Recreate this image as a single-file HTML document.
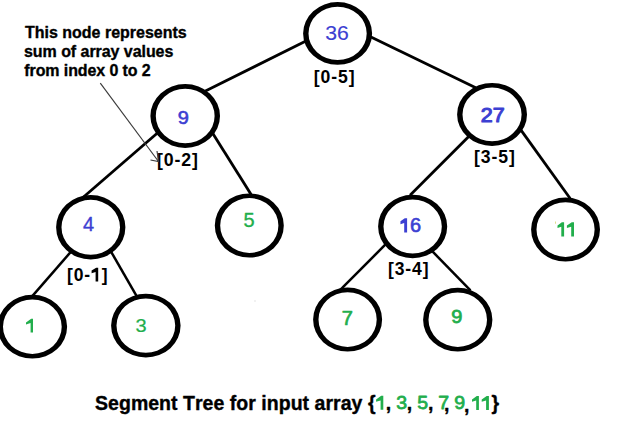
<!DOCTYPE html><html><head><meta charset="utf-8"><title>Segment Tree</title><style>html,body{margin:0;padding:0;background:#fff;width:640px;height:445px;overflow:hidden}svg{display:block}text{font-family:"Liberation Sans",sans-serif;font-kerning:none;white-space:pre}</style></head><body>
<svg width="640" height="445" viewBox="0 0 640 445">
<rect width="640" height="445" fill="#fff"/>
<line x1="203.96" y1="91.67" x2="306.94" y2="40.58" stroke="#000" stroke-width="2.8"/>
<line x1="369.90" y1="36.55" x2="475.75" y2="87.65" stroke="#000" stroke-width="2.8"/>
<line x1="157.43" y1="133.02" x2="82.37" y2="197.98" stroke="#000" stroke-width="2.8"/>
<line x1="212.20" y1="132.48" x2="251.60" y2="195.17" stroke="#000" stroke-width="2.8"/>
<line x1="470.26" y1="135.04" x2="410.04" y2="195.26" stroke="#000" stroke-width="2.8"/>
<line x1="520.82" y1="129.88" x2="570.18" y2="198.52" stroke="#000" stroke-width="2.8"/>
<line x1="70.38" y1="252.37" x2="32.52" y2="295.93" stroke="#000" stroke-width="2.5"/>
<line x1="110.85" y1="251.30" x2="136.65" y2="296.10" stroke="#000" stroke-width="2.5"/>
<line x1="385.76" y1="244.24" x2="338.74" y2="291.26" stroke="#000" stroke-width="2.5"/>
<line x1="432.45" y1="251.43" x2="470.45" y2="290.37" stroke="#000" stroke-width="2.5"/>
<path fill="#000" fill-rule="evenodd" d="M303.10 33.40A34.50 31.40 0 1 0 372.10 33.40A34.50 31.40 0 1 0 303.10 33.40ZM308.50 33.40A29.10 26.70 0 1 0 366.70 33.40A29.10 26.70 0 1 0 308.50 33.40Z"/>
<path fill="#000" fill-rule="evenodd" d="M150.40 116.00A34.80 31.90 0 1 0 220.00 116.00A34.80 31.90 0 1 0 150.40 116.00ZM155.80 116.00A29.40 27.20 0 1 0 214.60 116.00A29.40 27.20 0 1 0 155.80 116.00Z"/>
<path fill="#000" fill-rule="evenodd" d="M457.10 114.40A34.95 31.50 0 1 0 527.00 114.40A34.95 31.50 0 1 0 457.10 114.40ZM462.50 114.40A29.55 26.80 0 1 0 521.60 114.40A29.55 26.80 0 1 0 462.50 114.40Z"/>
<path fill="#000" fill-rule="evenodd" d="M56.10 227.30A34.65 32.20 0 1 0 125.40 227.30A34.65 32.20 0 1 0 56.10 227.30ZM61.50 227.30A29.25 27.50 0 1 0 120.00 227.30A29.25 27.50 0 1 0 61.50 227.30Z"/>
<path fill="#000" fill-rule="evenodd" d="M214.80 225.50A34.50 32.10 0 1 0 283.80 225.50A34.50 32.10 0 1 0 214.80 225.50ZM220.20 225.50A29.10 27.40 0 1 0 278.40 225.50A29.10 27.40 0 1 0 220.20 225.50Z"/>
<path fill="#000" fill-rule="evenodd" d="M378.10 226.50A34.55 31.70 0 1 0 447.20 226.50A34.55 31.70 0 1 0 378.10 226.50ZM383.50 226.50A29.15 27.00 0 1 0 441.80 226.50A29.15 27.00 0 1 0 383.50 226.50Z"/>
<path fill="#000" fill-rule="evenodd" d="M531.10 229.55A34.45 32.05 0 1 0 600.00 229.55A34.45 32.05 0 1 0 531.10 229.55ZM536.50 229.55A29.05 27.35 0 1 0 594.60 229.55A29.05 27.35 0 1 0 536.50 229.55Z"/>
<path fill="#000" fill-rule="evenodd" d="M-2.40 326.70A34.75 31.90 0 1 0 67.10 326.70A34.75 31.90 0 1 0 -2.40 326.70ZM3.00 326.70A29.35 27.20 0 1 0 61.70 326.70A29.35 27.20 0 1 0 3.00 326.70Z"/>
<path fill="#000" fill-rule="evenodd" d="M111.10 325.60A34.75 31.90 0 1 0 180.60 325.60A34.75 31.90 0 1 0 111.10 325.60ZM116.50 325.60A29.35 27.20 0 1 0 175.20 325.60A29.35 27.20 0 1 0 116.50 325.60Z"/>
<path fill="#000" fill-rule="evenodd" d="M313.10 319.55A34.50 32.05 0 1 0 382.10 319.55A34.50 32.05 0 1 0 313.10 319.55ZM318.50 319.55A29.10 27.35 0 1 0 376.70 319.55A29.10 27.35 0 1 0 318.50 319.55Z"/>
<path fill="#000" fill-rule="evenodd" d="M423.10 319.70A34.65 31.90 0 1 0 492.40 319.70A34.65 31.90 0 1 0 423.10 319.70ZM428.50 319.70A29.25 27.20 0 1 0 487.00 319.70A29.25 27.20 0 1 0 428.50 319.70Z"/>
<text x="325.27" y="39.72" font-size="21.208" font-weight="normal" fill="#3c40d2" stroke="#3c40d2" stroke-width="0.15" stroke-linejoin="round" transform="matrix(1 0 0 0.9890 0 0.438)">36</text>
<text x="177.64" y="124.49" font-size="20.000" font-weight="normal" fill="#3c40d2" stroke="#3c40d2" stroke-width="0.65" stroke-linejoin="round" transform="matrix(1 0 0 0.9498 0 6.243)">9</text>
<text x="480.79" y="121.62" font-size="21.498" font-weight="normal" fill="#3c40d2" stroke="#3c40d2" stroke-width="1.15" stroke-linejoin="round" transform="matrix(1 0 0 0.9560 0 5.355)">27</text>
<text x="83.10" y="231.42" font-size="20.000" font-weight="normal" fill="#3c40d2" stroke="#3c40d2" stroke-width="0.35" stroke-linejoin="round" transform="matrix(1 0 0 1.0356 0 -8.245)">4</text>
<text x="243.61" y="227.23" font-size="20.000" font-weight="normal" fill="#22ae4c" stroke="#22ae4c" stroke-width="0.35" stroke-linejoin="round" transform="matrix(1 0 0 1.0140 0 -3.174)">5</text>
<text x="410.05" y="232.28" font-size="20.000" font-weight="normal" fill="#3c40d2" stroke="#3c40d2" stroke-width="0.65" stroke-linejoin="round" transform="matrix(1 0 0 0.9993 0 0.167)">6</text>
<text x="135.50" y="332.19" font-size="20.000" font-weight="normal" fill="#22ae4c" stroke="#22ae4c" stroke-width="0.25" stroke-linejoin="round" transform="matrix(1 0 0 0.9357 0 21.352)">3</text>
<text x="341.78" y="325.25" font-size="20.000" font-weight="normal" fill="#22ae4c" stroke="#22ae4c" stroke-width="0.7" stroke-linejoin="round" transform="matrix(1 0 0 0.9739 0 8.504)">7</text>
<text x="451.29" y="323.02" font-size="20.000" font-weight="normal" fill="#22ae4c" stroke="#22ae4c" stroke-width="0.8" stroke-linejoin="round" transform="matrix(1 0 0 0.9463 0 17.340)">9</text>
<text x="396.21" y="409.22" font-size="19.500" font-weight="normal" fill="#22ae4c" stroke="#22ae4c" stroke-width="0.8" stroke-linejoin="round" transform="matrix(1 0 0 0.9597 0 16.484)">3</text>
<text x="417.30" y="409.22" font-size="19.500" font-weight="normal" fill="#22ae4c" stroke="#22ae4c" stroke-width="0.8" stroke-linejoin="round" transform="matrix(1 0 0 0.9554 0 18.232)">5</text>
<text x="438.27" y="409.40" font-size="19.500" font-weight="normal" fill="#22ae4c" stroke="#22ae4c" stroke-width="0.8" stroke-linejoin="round" transform="matrix(1 0 0 0.9690 0 12.688)">7</text>
<text x="454.28" y="409.42" font-size="19.500" font-weight="normal" fill="#22ae4c" stroke="#22ae4c" stroke-width="0.8" stroke-linejoin="round" transform="matrix(1 0 0 0.9561 0 17.975)">9</text>
<path fill="#3c40d2" d="M404.20 232.60L407.10 232.60L407.10 218.20L404.80 218.20L400.45 221.20L400.45 224.20L404.20 222.90Z"/>
<path fill="#22ae4c" d="M561.30 236.60L564.10 236.60L564.10 222.20L561.90 222.20L557.50 225.40L557.50 228.00L561.30 226.70Z"/>
<path fill="#22ae4c" d="M571.20 236.60L574.00 236.60L574.00 222.20L571.80 222.20L566.90 225.40L566.90 228.00L571.20 226.70Z"/>
<path fill="#22ae4c" d="M30.60 332.50L33.00 332.50L33.00 318.80L31.20 318.80L26.00 322.50L26.00 324.40L30.60 323.10Z"/>
<path fill="#22ae4c" d="M380.60 409.80L383.30 409.80L383.30 395.80L381.20 395.80L376.10 399.40L376.10 401.70L380.60 400.40Z"/>
<path fill="#22ae4c" d="M476.20 410.00L478.90 410.00L478.90 395.90L476.80 395.90L472.00 399.50L472.00 401.80L476.20 400.50Z"/>
<path fill="#22ae4c" d="M486.10 410.00L488.90 410.00L488.90 395.90L486.70 395.90L481.70 399.50L481.70 401.80L486.10 400.50Z"/>
<path fill="#000" d="M95.60 281.50L98.20 281.50L98.20 267.80L96.20 267.80L91.60 270.60L91.60 273.20L95.60 271.90Z"/>
<text x="313.81" y="83.45" font-size="17.609" font-weight="bold" letter-spacing="0.9" fill="#000" transform="matrix(1 0 0 1.0540 0 -4.507)">[0-5]</text>
<text x="157.01" y="165.97" font-size="17.709" font-weight="bold" letter-spacing="0.9" fill="#000" transform="matrix(1 0 0 1.0420 0 -6.971)">[0-2]</text>
<text x="474.01" y="162.97" font-size="17.609" font-weight="bold" letter-spacing="0.9" fill="#000" transform="matrix(1 0 0 1.0479 0 -7.809)">[3-5]</text>
<text x="66.92" y="281.19" font-size="17.509" font-weight="bold" letter-spacing="0.9" fill="#000" transform="matrix(1 0 0 1.0478 0 -13.435)">[0-</text>
<text x="101.65" y="281.19" font-size="17.509" font-weight="bold" letter-spacing="0.9" fill="#000" transform="matrix(1 0 0 1.0478 0 -13.435)">]</text>
<text x="388.02" y="275.34" font-size="17.509" font-weight="bold" letter-spacing="0.9" fill="#000" transform="matrix(1 0 0 1.0907 0 -24.965)">[3-4]</text>
<g stroke="#000" stroke-width="0.35">
<text x="24.97" y="38.20" font-size="16.000" font-weight="bold" fill="#000" stroke="#000" stroke-width="0.35" stroke-linejoin="round" transform="matrix(1 0 0 1.0400 0 -1.528)">This node represents</text>
<text x="24.04" y="56.70" font-size="16.000" font-weight="bold" letter-spacing="-0.05" fill="#000" stroke="#000" stroke-width="0.35" stroke-linejoin="round" transform="matrix(1 0 0 1.0400 0 -2.268)">sum of array values</text>
<text x="24.33" y="75.60" font-size="16.000" font-weight="bold" letter-spacing="-0.1" fill="#000" stroke="#000" stroke-width="0.35" stroke-linejoin="round" transform="matrix(1 0 0 1.0400 0 -3.024)">from index 0 to 2</text>
</g>
<g stroke="#3a3a3a" stroke-width="1.15" fill="none"><line x1="100.3" y1="83.1" x2="158.5" y2="161.5"/><polyline points="157,151 158.5,161.5 150.5,160"/></g>
<rect x="555" y="221.5" width="0.9" height="2.2" fill="#ddd880"/>
<rect x="254.5" y="300.5" width="1" height="1" fill="#c8c8c8"/>
<g stroke="#000" stroke-width="0.35">
<text x="95.04" y="410.00" font-size="19.500" font-weight="bold" letter-spacing="0.04" fill="#000" stroke="#000" stroke-width="0.35" stroke-linejoin="round" transform="matrix(1 0 0 1.0400 0 -16.400)">Segment Tree for input array {</text>
<text x="385.78" y="409.86" font-size="19.500" font-weight="bold" fill="#000" stroke="#000" stroke-width="0.35" stroke-linejoin="round" transform="matrix(1 0 0 1.0400 0 -16.394)">,</text>
<text x="406.83" y="409.76" font-size="19.500" font-weight="bold" fill="#000" stroke="#000" stroke-width="0.35" stroke-linejoin="round" transform="matrix(1 0 0 1.0400 0 -16.390)">,</text>
<text x="427.98" y="409.86" font-size="19.500" font-weight="bold" fill="#000" stroke="#000" stroke-width="0.35" stroke-linejoin="round" transform="matrix(1 0 0 1.0400 0 -16.394)">,</text>
<text x="444.01" y="411.06" font-size="19.500" font-weight="bold" fill="#000" stroke="#000" stroke-width="0.35" stroke-linejoin="round" transform="matrix(1 0 0 1.0400 0 -16.442)">,</text>
<text x="463.98" y="411.56" font-size="19.500" font-weight="bold" fill="#000" stroke="#000" stroke-width="0.35" stroke-linejoin="round" transform="matrix(1 0 0 1.0400 0 -16.462)">,</text>
<text x="491.42" y="409.54" font-size="19.500" font-weight="bold" fill="#000" stroke="#000" stroke-width="0.35" stroke-linejoin="round" transform="matrix(1 0 0 1.0400 0 -16.382)">}</text>
</g>
</svg></body></html>
